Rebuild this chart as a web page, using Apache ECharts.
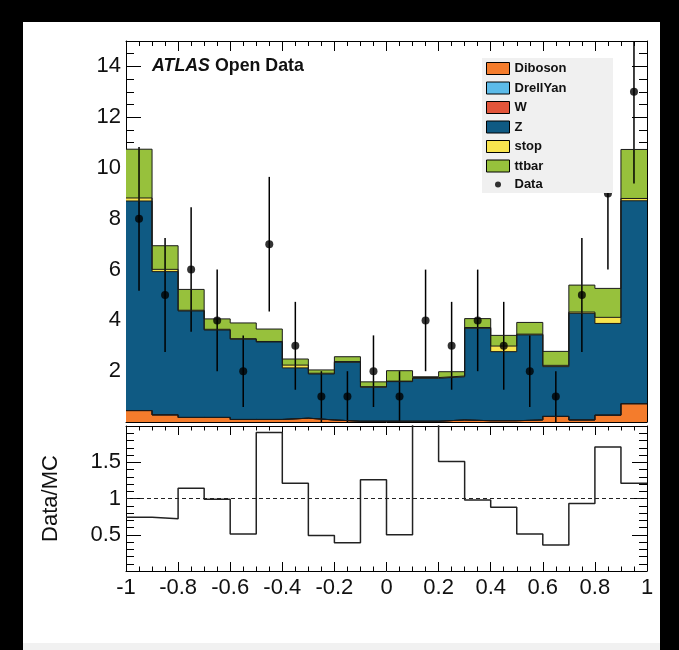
<!DOCTYPE html>
<html>
<head>
<meta charset="utf-8">
<script src="https://cdn.jsdelivr.net/npm/echarts@6/dist/echarts.min.js"></script>
<style>
html, body { margin: 0; padding: 0; width: 679px; height: 650px; background: #000; overflow: hidden; }
#paper { position: absolute; left: 23px; top: 22px; width: 637px; height: 628px; background: #fff; }
#strip { position: absolute; left: 23px; top: 643px; width: 637px; height: 7px; background: #f1f1f1; }
#chart { position: absolute; left: 0; top: 0; width: 679px; height: 650px; }
</style>
</head>
<body>
<div id="paper"></div>
<div id="strip"></div>
<div id="chart"></div>
<script>
// 20 bins in cos(theta), edges and centres
const binEdges = [-1, -0.9, -0.8, -0.7, -0.6, -0.5, -0.4, -0.3, -0.2, -0.1, 0, 0.1, 0.2, 0.3, 0.4, 0.5, 0.6, 0.7, 0.8, 0.9, 1];
const binCenters = [-0.95, -0.85, -0.75, -0.65, -0.55, -0.45, -0.35, -0.25, -0.15, -0.05, 0.05, 0.15, 0.25, 0.35, 0.45, 0.55, 0.65, 0.75, 0.85, 0.95];

// MC contributions per bin (stacked bottom -> top)
const diboson  = [0.45, 0.28, 0.18, 0.18, 0.10, 0.10, 0.15, 0.08, 0.03, 0.03, 0.03, 0.03, 0.08, 0.05, 0.05, 0.08, 0.22, 0.08, 0.27, 0.72];
const drellYan = [0, 0, 0, 0, 0, 0, 0, 0, 0, 0, 0, 0, 0, 0, 0, 0, 0, 0, 0, 0];
const wBoson   = [0, 0, 0, 0, 0, 0, 0, 0, 0, 0, 0, 0, 0, 0, 0, 0, 0, 0, 0, 0];
const zBoson   = [8.25, 5.64, 4.19, 3.44, 3.16, 3.05, 1.98, 1.81, 2.32, 1.34, 1.56, 1.69, 1.70, 3.64, 2.72, 3.35, 1.96, 4.20, 3.61, 7.99];
const stop     = [0.12, 0.09, 0.03, 0.03, 0.02, 0.02, 0.11, 0.03, 0.03, 0.02, 0.02, 0.03, 0.03, 0.03, 0.22, 0.03, 0.05, 0.05, 0.24, 0.09];
const ttbar    = [1.92, 0.93, 0.82, 0.41, 0.62, 0.49, 0.24, 0.13, 0.19, 0.19, 0.41, 0.03, 0.17, 0.35, 0.42, 0.46, 0.55, 1.06, 1.14, 1.93];

// observed data with error bars
const dataCounts = [8, 5, 6, 4, 2, 7, 3, 1, 1, 2, 1, 4, 3, 4, 3, 2, 1, 5, 9, 13];
const dataErr    = [2.83, 2.24, 2.45, 2, 1.41, 2.65, 1.73, 1, 1, 1.41, 1, 2, 1.73, 2, 1.73, 1.41, 1, 2.24, 3, 3.61];

// lower panel
const ratio = [0.74, 0.72, 1.14, 0.99, 0.51, 1.91, 1.21, 0.49, 0.39, 1.26, 0.50, 2.24, 1.51, 0.98, 0.88, 0.51, 0.36, 0.93, 1.71, 1.21];

const mcNames  = ['Diboson', 'DrellYan', 'W', 'Z', 'stop', 'ttbar'];
const mcColors = ['#f47c2c', '#5cbbe9', '#e2553a', '#0f5a83', '#f8e44e', '#97c13c'];
const mcParts  = [diboson, drellYan, wBoson, zBoson, stop, ttbar];

const FONT = "'Liberation Sans', Arial, sans-serif";

// histogram as step line: one point per left edge + closing point at the right edge
function stepPoints(vals) {
    const pts = vals.map((v, i) => [binEdges[i], v]);
    pts.push([binEdges[binEdges.length - 1], vals[vals.length - 1]]);
    return pts;
}

// running totals of the stack
let run = binCenters.map(() => 0);
const stackTops = mcParts.map(part => (run = run.map((v, i) => v + part[i])));

let chart = echarts.init(document.getElementById('chart'));

function xAx(grid, pos, labels, tickLen) {
    return {
        type: 'value', gridIndex: grid, position: pos, min: -1, max: 1, interval: 0.2,
        axisLine: { show: true, onZero: false, lineStyle: { color: '#000', width: 1 } },
        axisTick: { show: true, inside: true, length: tickLen, lineStyle: { color: '#000' } },
        minorTick: { show: true, splitNumber: 4, length: tickLen / 2, lineStyle: { color: '#000' } },
        splitLine: { show: false },
        axisLabel: {
            show: labels, fontSize: 22, fontFamily: FONT, color: '#111', margin: 6,
            showMinLabel: true, showMaxLabel: true
        }
    };
}

function yAx(grid, pos, max, interval, minorSplit, labels) {
    return {
        type: 'value', gridIndex: grid, position: pos, min: 0, max: max, interval: interval,
        axisLine: { show: true, onZero: false, lineStyle: { color: '#000', width: 1 } },
        axisTick: { show: true, inside: true, length: 15, lineStyle: { color: '#000' } },
        minorTick: { show: true, splitNumber: minorSplit, length: 8, lineStyle: { color: '#000' } },
        splitLine: { show: false },
        axisLabel: {
            show: labels, fontSize: 22, fontFamily: FONT, color: '#111', margin: 5,
            formatter: v => (v > 0 && v < max) ? String(v) : ''
        }
    };
}

const series = [];
// ROOT-style THStack: draw the full stack first, then each lower level over it
for (let k = mcNames.length - 1; k >= 0; k--) {
    series.push({
        name: mcNames[k], type: 'line', xAxisIndex: 0, yAxisIndex: 0,
        step: 'end', symbol: 'none', data: stepPoints(stackTops[k]),
        itemStyle: { color: mcColors[k] },
        lineStyle: { color: '#1a1a1a', width: 1 },
        areaStyle: { color: mcColors[k], opacity: 1 },
        z: 2
    });
}
series.push({
    name: 'Data', type: 'scatter', xAxisIndex: 0, yAxisIndex: 0,
    data: binCenters.map((x, i) => [x, dataCounts[i]]),
    symbol: 'circle', symbolSize: 8, itemStyle: { color: '#000' }, z: 2
});
series.push({
    name: 'Data', type: 'custom', xAxisIndex: 0, yAxisIndex: 0,
    data: binCenters.map((x, i) => [x, dataCounts[i], dataErr[i]]),
    encode: { x: 0, y: 1 },
    renderItem: function (params, api) {
        let x = api.value(0), y = api.value(1), e = api.value(2);
        let hi = api.coord([x, y + e]);
        let lo = api.coord([x, y - e]);
        let cs = params.coordSys;
        return {
            type: 'line',
            shape: { x1: hi[0], y1: Math.max(hi[1], cs.y), x2: lo[0], y2: Math.min(lo[1], cs.y + cs.height) },
            style: { stroke: '#000', lineWidth: 1.5 }
        };
    },
    z: 2
});
series.push({
    name: 'ratio', type: 'line', xAxisIndex: 2, yAxisIndex: 2,
    step: 'end', symbol: 'none', clip: true, data: stepPoints(ratio),
    lineStyle: { color: '#222', width: 1.5 },
    markLine: {
        silent: true, symbol: ['none', 'none'], label: { show: false },
        lineStyle: { color: '#222', width: 1, type: [4, 3] },
        data: [{ yAxis: 1 }]
    }
});

let option = {
    animation: false,
    backgroundColor: 'transparent',
    title: {
        left: 152, top: 57, padding: 0,
        text: '{a|ATLAS} {b|Open Data}',
        textStyle: {
            rich: {
                a: { fontFamily: FONT, fontSize: 17.8, fontWeight: 'bold', fontStyle: 'italic', color: '#111' },
                b: { fontFamily: FONT, fontSize: 17.8, color: '#111' }
            }
        }
    },
    graphic: {
        elements: [{
            type: 'rect', z: 3, silent: true,
            shape: { x: 482, y: 58, width: 131, height: 135 },
            style: { fill: '#f0f0f0' }
        }]
    },
    legend: [{
        orient: 'vertical', left: 486, top: 62, padding: 0, selectedMode: false,
        itemWidth: 23, itemHeight: 12, itemGap: 6.5, icon: 'rect',
        itemStyle: { borderColor: '#000', borderWidth: 1 },
        textStyle: { fontFamily: FONT, fontSize: 13, fontWeight: 'bold', color: '#111', lineHeight: 12 },
        data: mcNames.map((n, i) => ({ name: n, itemStyle: { color: mcColors[i] } }))
    }, {
        orient: 'vertical', left: 495, top: 178, padding: 0, selectedMode: false,
        itemWidth: 23, itemHeight: 6, icon: 'circle',
        textStyle: { fontFamily: FONT, fontSize: 13, fontWeight: 'bold', color: '#111', lineHeight: 12 },
        data: [{ name: 'Data', itemStyle: { color: '#000' } }]
    }],
    grid: [
        { left: 126, top: 41, width: 521, height: 381 },
        { left: 126, top: 426, width: 521, height: 145 }
    ],
    xAxis: [
        xAx(0, 'bottom', false, 10),
        xAx(0, 'top', false, 10),
        xAx(1, 'bottom', true, 9),
        xAx(1, 'top', false, 9)
    ],
    yAxis: [
        yAx(0, 'left', 15, 2, 4, true),
        yAx(0, 'right', 15, 2, 4, false),
        Object.assign(yAx(1, 'left', 2, 0.5, 5, true), {
            name: 'Data/MC', nameLocation: 'middle', nameRotate: 90, nameGap: 64,
            nameTextStyle: { fontFamily: FONT, fontSize: 22, color: '#111' }
        }),
        yAx(1, 'right', 2, 0.5, 5, false)
    ],
    series: series
};
chart.setOption(option);
</script>
</body>
</html>
